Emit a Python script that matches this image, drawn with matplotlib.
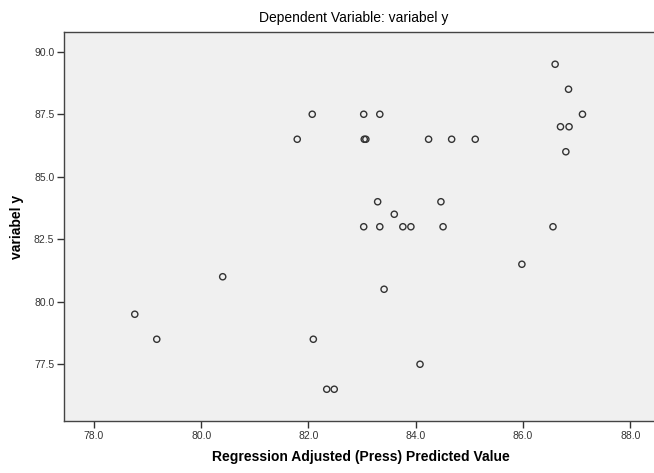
import matplotlib
matplotlib.use("Agg")
import matplotlib.pyplot as plt

# Regression Adjusted (Press) Predicted Value vs observed variabel y
pred = [86.60, 86.85, 87.11, 86.70, 86.86, 86.80, 86.56, 85.98,
        82.07, 83.03, 83.33, 81.79, 83.04, 83.07, 84.24, 84.67, 85.11,
        83.29, 84.47, 83.60, 83.03, 83.33, 83.76, 83.91, 84.51, 83.41,
        80.40, 78.76, 79.17, 82.09, 82.34, 82.48, 84.08]
obs = [89.5, 88.5, 87.5, 87.0, 87.0, 86.0, 83.0, 81.5,
       87.5, 87.5, 87.5, 86.5, 86.5, 86.5, 86.5, 86.5, 86.5,
       84.0, 84.0, 83.5, 83.0, 83.0, 83.0, 83.0, 83.0, 80.5,
       81.0, 79.5, 78.5, 78.5, 76.5, 76.5, 77.5]

xticks = [78.0, 80.0, 82.0, 84.0, 86.0, 88.0]
yticks = [77.5, 80.0, 82.5, 85.0, 87.5, 90.0]

plt.rcParams['font.family'] = ['Liberation Sans', 'DejaVu Sans']

fig = plt.figure(figsize=(6.54, 4.73), dpi=100)
ax = fig.add_axes([64/654, 1 - 421/473, (657 - 64)/654, (421 - 32)/473])
ax.set_facecolor('#f0f0f0')

ax.scatter(pred, obs, s=20, facecolors='none', edgecolors='#333333',
           linewidths=1.0, zorder=3)

ax.set_xlim(77.44, 88.5)
ax.set_ylim(75.23, 90.79)
ax.set_xticks(xticks)
ax.set_yticks(yticks)
ax.set_xticklabels(['%.1f' % v for v in xticks])
ax.set_yticklabels(['%.1f' % v for v in yticks])
ax.tick_params(axis='both', direction='out', length=5, width=1,
               color='#333333', labelsize=7.5, labelcolor='#333333', pad=2)
ax.tick_params(top=False, right=False)
for s in ax.spines.values():
    s.set_color('#444444')
    s.set_linewidth(1)

ax.set_xlabel('Regression Adjusted (Press) Predicted Value',
              fontsize=10, fontweight='bold', labelpad=7)
ax.set_ylabel('variabel y', fontsize=10, fontweight='bold', labelpad=7)
fig.text(354/654, 1 - 18/473, 'Dependent Variable: variabel y',
         ha='center', va='center', fontsize=10)

fig.savefig('out.png', dpi=100)
